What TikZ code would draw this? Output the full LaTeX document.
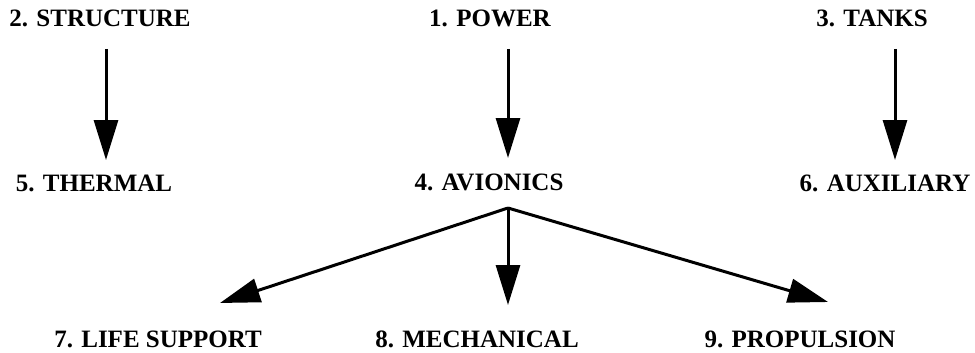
\documentclass[tikz,border=0pt]{standalone}
\usepackage{fontspec}
\setmainfont{Liberation Serif}
\usetikzlibrary{arrows.meta}
\begin{document}
\begin{tikzpicture}[x=1pt,y=-1pt,
  lbl/.style={anchor=base,inner sep=0pt,font=\bfseries\fontsize{25}{29}\selectfont},
  arr/.style={line width=3pt,-{Triangle[length=40pt,width=24pt]}}]
\useasboundingbox (0,0) rectangle (975,353);
\node[lbl] (n2) at (100,27) {2. STRUCTURE};
\node[lbl] (n1) at (490,27) {1. POWER};
\node[lbl] (n3) at (872,27) {3. TANKS};
\node[lbl] (n5) at (94,191) {5. THERMAL};
\node[lbl] (n4) at (489,190) {4. AVIONICS};
\node[lbl] (n6) at (885,191) {6. AUXILIARY};
\node[lbl] (n7) at (158,347) {7. LIFE SUPPORT};
\node[lbl] (n8) at (477,347) {8. MECHANICAL};
\node[lbl] (n9) at (800,347) {9. PROPULSION};
\coordinate (s2) at (106,49);  \coordinate (e2) at (106,160);
\coordinate (s1) at (508,49);  \coordinate (e1) at (508,158);
\coordinate (s3) at (895,49);  \coordinate (e3) at (895,160);
\coordinate (b) at (508,208);
\coordinate (e7) at (220,303);
\coordinate (e8) at (508,305);
\coordinate (e9) at (828,302);
\draw[arr] (s2) -- (e2);
\draw[arr] (s1) -- (e1);
\draw[arr] (s3) -- (e3);
\draw[arr] (b) -- (e7);
\draw[arr] (b) -- (e8);
\draw[arr] (b) -- (e9);
\end{tikzpicture}
\end{document}
